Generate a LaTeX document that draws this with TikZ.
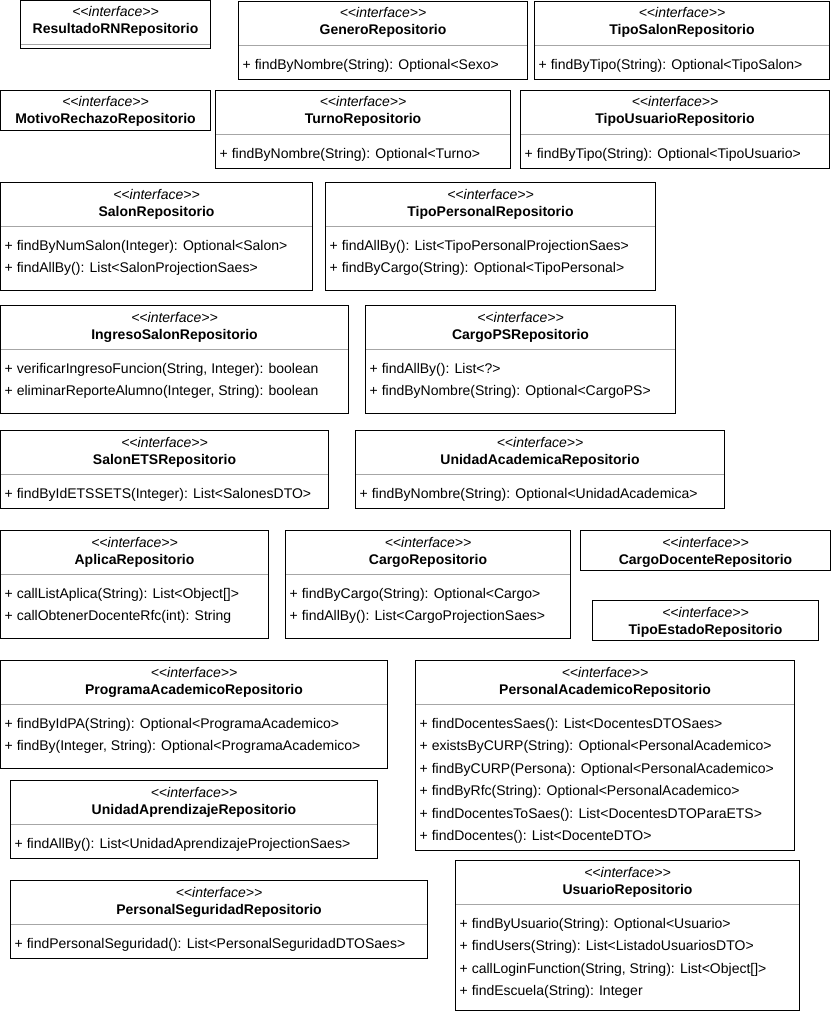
\documentclass[tikz,border=0pt]{standalone}
\usepackage{fontspec}
\setmainfont{Liberation Sans}[Ligatures=TeXOff]
\usetikzlibrary{positioning,calc}

\begin{document}
\begin{tikzpicture}[x=1pt,y=-1pt,
		repo/.style={draw, line width=1pt, anchor=north west, inner sep=0pt, outer sep=0pt},
		stereo/.style={anchor=base, inner sep=0pt, font=\fontsize{14}{16}\selectfont\itshape},
		title/.style={anchor=base, inner sep=0pt, font=\fontsize{14}{16}\selectfont\bfseries},
		method/.style={anchor=base west, inner sep=0pt, font=\fontsize{14}{16}\selectfont},
		sepline/.style={draw=black!35, line width=1pt}]
			\newcommand{\repobox}[6]{% name, left, top, width, height, title
				\node[repo, minimum width=#4pt, minimum height=#5pt] (#1) at (#2,#3) {};
				\node[stereo] (#1-st) at ([yshift=-16.5pt]#1.north) {<<interface>>};
				\node[title] (#1-name) at ([yshift=-33.5pt]#1.north) {#6};
			}
			\newcommand{\reposep}[1]{% gray line under the header
				\draw[sepline] ([yshift=-44pt,xshift=.5pt]#1.north west) -- ([yshift=-44pt,xshift=-.5pt]#1.north east);
			}
			\newcommand{\repometh}[2]{% methods, one per line
				\reposep{#1}
				\foreach \m [count=\i] in {#2}
					\node[method] (#1-m\i) at ([xshift=4pt,yshift={-68pt-(\i-1)*22.4pt}]#1.north west) {\m};
			}
			
			\useasboundingbox (0,0) rectangle (832,1011);
			
			% first rows
			\repobox{resultado}{20.5}{0.5}{190}{48}{ResultadoRNRepositorio}
			\reposep{resultado}
			\repobox{genero}{238.5}{1.5}{289}{78}{GeneroRepositorio}
			\repometh{genero}{{+ findByNombre(String): Optional<Sexo>}}
			\repobox{tiposalon}{534.5}{1.5}{295}{78}{TipoSalonRepositorio}
			\repometh{tiposalon}{{+ findByTipo(String): Optional<TipoSalon>}}
			
			\repobox{motivo}{0.5}{90.5}{210}{40}{MotivoRechazoRepositorio}
			\repobox{turno}{215.5}{90.5}{295}{78}{TurnoRepositorio}
			\repometh{turno}{{+ findByNombre(String): Optional<Turno>}}
			\repobox{tipousuario}{520.5}{90.5}{309}{78}{TipoUsuarioRepositorio}
			\repometh{tipousuario}{{+ findByTipo(String): Optional<TipoUsuario>}}
			
			\repobox{salon}{0.5}{182.5}{312}{108}{SalonRepositorio}
			\repometh{salon}{{+ findByNumSalon(Integer): Optional<Salon>},{+ findAllBy(): List<SalonProjectionSaes>}}
			\repobox{tipopersonal}{325.5}{182.5}{330}{108}{TipoPersonalRepositorio}
			\repometh{tipopersonal}{{+ findAllBy(): List<TipoPersonalProjectionSaes>},{+ findByCargo(String): Optional<TipoPersonal>}}
			
			\repobox{ingreso}{0.5}{305.5}{348}{108}{IngresoSalonRepositorio}
			\repometh{ingreso}{{+ verificarIngresoFuncion(String, Integer): boolean},{+ eliminarReporteAlumno(Integer, String): boolean}}
			\repobox{cargops}{365.5}{305.5}{310}{108}{CargoPSRepositorio}
			\repometh{cargops}{{+ findAllBy(): List<?>},{+ findByNombre(String): Optional<CargoPS>}}
			
			\repobox{salonets}{0.5}{430.5}{328}{78}{SalonETSRepositorio}
			\repometh{salonets}{{+ findByIdETSSETS(Integer): List<SalonesDTO>}}
			\repobox{unidadacad}{355.5}{430.5}{369}{78}{UnidadAcademicaRepositorio}
			\repometh{unidadacad}{{+ findByNombre(String): Optional<UnidadAcademica>}}
			
			% middle
			\repobox{aplica}{0.5}{530.5}{268}{108}{AplicaRepositorio}
			\repometh{aplica}{{+ callListAplica(String): List<Object[]>},{+ callObtenerDocenteRfc(int): String}}
			\repobox{cargo}{285.5}{530.5}{285}{108}{CargoRepositorio}
			\repometh{cargo}{{+ findByCargo(String): Optional<Cargo>},{+ findAllBy(): List<CargoProjectionSaes>}}
			\repobox{cargodoc}{580.5}{530.5}{250}{40}{CargoDocenteRepositorio}
			\repobox{tipoestado}{592.5}{600.5}{226}{40}{TipoEstadoRepositorio}
			
			% bottom
			\repobox{programa}{0.5}{660.5}{387}{108}{ProgramaAcademicoRepositorio}
			\repometh{programa}{{+ findByIdPA(String): Optional<ProgramaAcademico>},{+ findBy(Integer, String): Optional<ProgramaAcademico>}}
			\repobox{personalacad}{415.5}{660.5}{379}{190}{PersonalAcademicoRepositorio}
			\repometh{personalacad}{{+ findDocentesSaes(): List<DocentesDTOSaes>},{+ existsByCURP(String): Optional<PersonalAcademico>},{+ findByCURP(Persona): Optional<PersonalAcademico>},{+ findByRfc(String): Optional<PersonalAcademico>},{+ findDocentesToSaes(): List<DocentesDTOParaETS>},{+ findDocentes(): List<DocenteDTO>}}
			
			\repobox{unidadapr}{10.5}{780.5}{367}{78}{UnidadAprendizajeRepositorio}
			\repometh{unidadapr}{{+ findAllBy(): List<UnidadAprendizajeProjectionSaes>}}
			\repobox{personalseg}{10.5}{880.5}{417}{78}{PersonalSeguridadRepositorio}
			\repometh{personalseg}{{+ findPersonalSeguridad(): List<PersonalSeguridadDTOSaes>}}
			\repobox{usuario}{455.5}{860.5}{344}{150}{UsuarioRepositorio}
			\repometh{usuario}{{+ findByUsuario(String): Optional<Usuario>},{+ findUsers(String): List<ListadoUsuariosDTO>},{+ callLoginFunction(String, String): List<Object[]>},{+ findEscuela(String): Integer}}
		
		\end{tikzpicture}
\end{document}
